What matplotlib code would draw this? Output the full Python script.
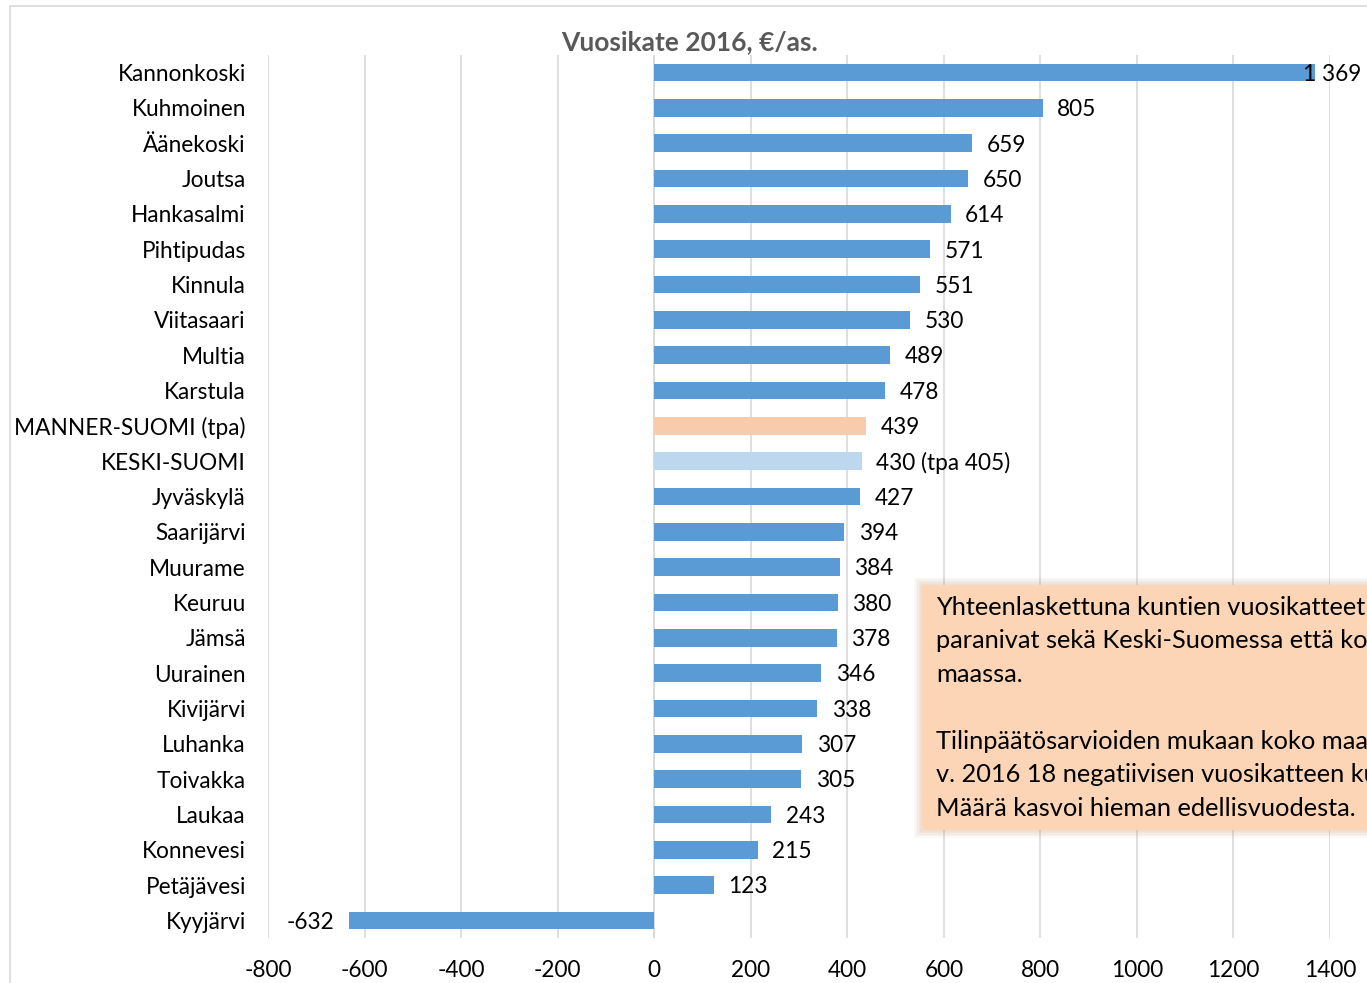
import matplotlib.pyplot as plt
from matplotlib.patches import Rectangle

plt.rcParams['font.family'] = ['Lato', 'DejaVu Sans']

kunnat = ['Kannonkoski', 'Kuhmoinen', 'Äänekoski', 'Joutsa', 'Hankasalmi',
          'Pihtipudas', 'Kinnula', 'Viitasaari', 'Multia', 'Karstula',
          'MANNER-SUOMI (tpa)', 'KESKI-SUOMI', 'Jyväskylä', 'Saarijärvi',
          'Muurame', 'Keuruu', 'Jämsä', 'Uurainen', 'Kivijärvi', 'Luhanka',
          'Toivakka', 'Laukaa', 'Konnevesi', 'Petäjävesi', 'Kyyjärvi']
vuosikate = [1369, 805, 659, 650, 614, 571, 551, 530, 489, 478, 439, 430,
             427, 394, 384, 380, 378, 346, 338, 307, 305, 243, 215, 123, -632]
labels = ['1 369', '805', '659', '650', '614', '571', '551', '530', '489',
          '478', '439', '430 (tpa 405)', '427', '394', '384', '380', '378',
          '346', '338', '307', '305', '243', '215', '123', '-632']
ticks = [-800, -600, -400, -200, 0, 200, 400, 600, 800, 1000, 1200, 1400]

info = ("Yhteenlaskettuna kuntien vuosikatteet\n"
        "paranivat sekä Keski-Suomessa että koko\n"
        "maassa.\n"
        "\n"
        "Tilinpäätösarvioiden mukaan koko maassa oli\n"
        "v. 2016 18 negatiivisen vuosikatteen kuntaa.\n"
        "Määrä kasvoi hieman edellisvuodesta.")

W, H = 1367, 983
fs = 16.3
fig = plt.figure(figsize=(W / 100, H / 100), dpi=100)

# chart border
fig.patches.append(Rectangle((10 / W, -0.01), 1.2, 1 - 6 / H + 0.01,
                             transform=fig.transFigure, fill=False,
                             edgecolor='#D9D9D9', lw=1.2))

ax = fig.add_axes([268 / W, 1 - 938 / H, (1330 - 268) / W, (938 - 55) / H])

colors = []
for k in kunnat:
    if k.startswith('MANNER'):
        colors.append('#F8CBAD')
    elif k == 'KESKI-SUOMI':
        colors.append('#BDD7EE')
    else:
        colors.append('#5B9BD5')

y = list(range(len(kunnat)))
ax.barh(y, vuosikate, height=0.5, color=colors, zorder=2)
for yi, v, lab in zip(y, vuosikate, labels):
    if v > 1300:
        # no room on the right, Excel pulls it back over the bar end
        ax.text(1465, yi + 0.05, lab, va='center', ha='right', fontsize=fs,
                zorder=3)
    elif v >= 0:
        ax.text(v + 30, yi + 0.05, lab, va='center', ha='left', fontsize=fs,
                zorder=3)
    else:
        ax.text(v - 30, yi + 0.05, lab, va='center', ha='right', fontsize=fs,
                zorder=3)

ax.set_xlim(-800, 1400)
ax.set_ylim(len(kunnat) - 0.5, -0.5)
ax.set_xticks(ticks)
ax.set_xticklabels([str(t) for t in ticks])
ax.set_yticks(y)
ax.set_yticklabels(kunnat)
ax.tick_params(axis='both', length=0, labelsize=fs, colors='#000000')
ax.tick_params(axis='y', pad=16)
ax.tick_params(axis='x', pad=16)
ax.grid(axis='x', color='#D9D9D9', lw=1.2, zorder=0)
for s in ax.spines.values():
    s.set_visible(False)
ax.axvline(0, color='#D9D9D9', lw=1.2, zorder=1)

fig.text(690 / W, 1 - 42 / H, 'Vuosikate 2016, €/as.', ha='center',
         va='center', fontsize=19, fontweight='bold', color='#595959')

# text box with soft shadow
bx, by0, by1 = 922 / W, 1 - 830 / H, 1 - 585 / H
for i in range(5):
    off = (i + 1) * 1.5
    fig.patches.append(Rectangle((bx - off / W, by0 - off / H), 1,
                                 by1 - by0 + 2 * off / H,
                                 transform=fig.transFigure, color='#C8A080',
                                 alpha=0.07, lw=0, zorder=5))
fig.patches.append(Rectangle((bx, by0), 1, by1 - by0,
                             transform=fig.transFigure, color='#FBD5B5',
                             lw=0, zorder=6))
fig.text(936 / W, 1 - 596 / H, info, ha='left', va='top', fontsize=18.3,
         linespacing=1.55, color='#000000', zorder=7)

fig.savefig('out.png', dpi=100)
